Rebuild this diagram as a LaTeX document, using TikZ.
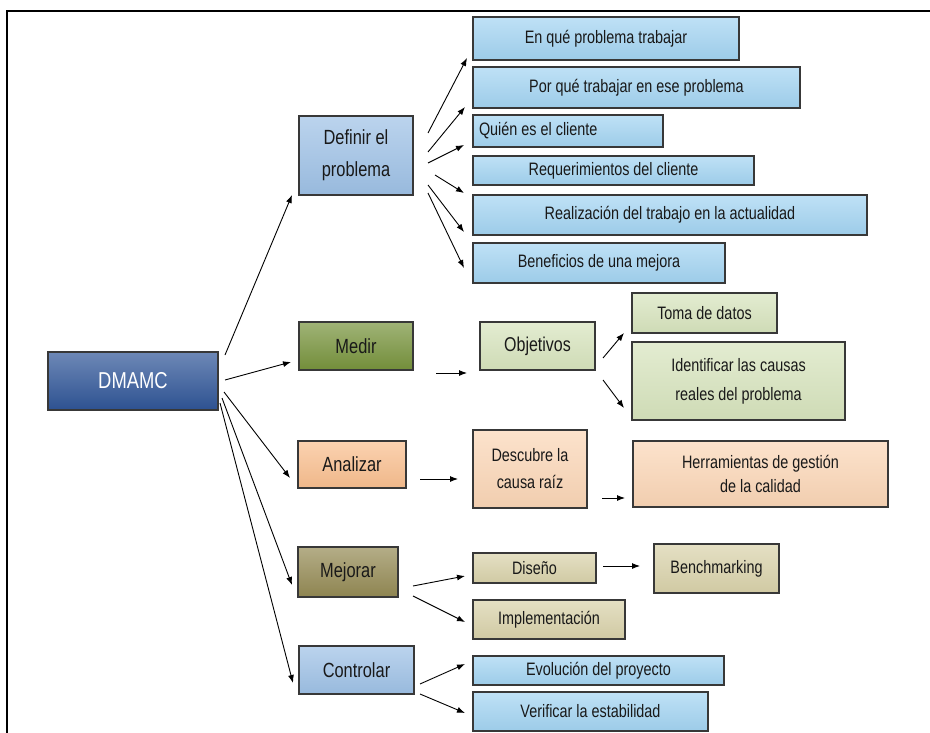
\documentclass[tikz,border=0pt]{standalone}
\usepackage{fontspec}
\setmainfont{Liberation Sans}[FakeStretch=0.8]
\usetikzlibrary{arrows.meta}
\definecolor{dblue}{HTML}{2F5597}
\definecolor{lblue}{HTML}{9EC1E6}
\definecolor{cblue}{HTML}{A3D4F2}
\definecolor{dgreen}{HTML}{77933C}
\definecolor{lgreen}{HTML}{D7E4BD}
\definecolor{dorange}{HTML}{F9BF8F}
\definecolor{lorange}{HTML}{FBD6B6}
\definecolor{dkhaki}{HTML}{948A54}
\definecolor{lkhaki}{HTML}{D9D2AA}
\newcommand\sizeS{\fontsize{18}{27}\selectfont}
\newcommand\sizeM{\fontsize{20}{30}\selectfont}
\newcommand\sizeL{\fontsize{20.5}{32}\selectfont}
\newcommand\sizeX{\fontsize{23}{30}\selectfont}
\newcommand\bx[7]{\node[#6, minimum width={#4-#2}, minimum height={#5-#3}] (#1) at ({(#2+#4)/2},{(#3+#5)/2}) {#7};}
\tikzset{
  box/.style={draw=black!78, line width=1.6pt, inner sep=2pt, outer sep=0pt, align=center,
    text=black!90, top color=#1!70!white, bottom color=#1!96!black, font=\sizeS},
  arr/.style={line width=0.9pt, -{Latex[length=8pt,width=6pt]}},
  frame/.style={line width=2.6pt, black}
}
\begin{document}
\begin{tikzpicture}[x=1pt,y=-1pt]
\useasboundingbox (0,0) rectangle (930,733);
\draw[frame] (930,11) coordinate (fr) -- (7,11) coordinate (fc) -- (7,733) coordinate (fb);
% main column
\bx{dmamc}{48}{352}{218}{410}{box=dblue, text=white, font=\sizeX}{DMAMC}
\bx{def}{299}{116}{413}{195}{box=lblue, font=\sizeL}{Definir el\\ problema}
\bx{med}{299}{322}{413}{370}{box=dgreen, font=\sizeL}{Medir}
\bx{ana}{298}{441}{406}{488}{box=dorange, font=\sizeL}{Analizar}
\bx{mej}{298}{547}{398}{597}{box=dkhaki, font=\sizeL}{Mejorar}
\bx{con}{299}{646}{414}{694}{box=lblue, font=\sizeL}{Controlar}
% Definir children
\bx{enq}{473}{17}{739}{60}{box=cblue}{En qué problema trabajar}
\bx{porq}{473}{67}{800}{108}{box=cblue}{Por qué trabajar en ese problema}
\bx{quien}{473}{115}{663}{147}{box=cblue, text width=178pt, align=flush left, inner xsep=6pt}{Quién es el cliente}
\bx{req}{473}{156}{754}{185}{box=cblue}{Requerimientos del cliente}
\bx{real}{473}{195}{867}{235}{box=cblue}{Realización del trabajo en la actualidad}
\bx{ben}{473}{243}{725}{283}{box=cblue}{Beneficios de una mejora}
% Medir children
\bx{obj}{480}{322}{595}{370}{box=lgreen, font=\sizeM}{Objetivos}
\bx{toma}{632}{293}{777}{333}{box=lgreen}{Toma de datos}
\bx{iden}{632}{342}{845}{420}{box=lgreen, font=\fontsize{18}{29}\selectfont}{Identificar las causas\\ reales del problema}
% Analizar children
\bx{desc}{473}{430}{587}{508}{box=lorange}{Descubre la\\ causa raíz}
\bx{herr}{633}{441}{888}{507}{box=lorange, font=\fontsize{18}{24}\selectfont}{Herramientas de gestión\\ de la calidad}
% Mejorar children
\bx{dis}{473}{553}{596}{583}{box=lkhaki}{Diseño}
\bx{bench}{654}{544}{779}{593}{box=lkhaki}{Benchmarking}
\bx{impl}{473}{600}{625}{639}{box=lkhaki}{Implementación}
% Controlar children
\bx{evo}{473}{656}{724}{685}{box=cblue}{Evolución del proyecto}
\bx{ver}{473}{692}{708}{731}{box=cblue}{Verificar la estabilidad}
% connector end points
\coordinate (d1) at (225,355); \coordinate (d1e) at (292,195);
\coordinate (d2) at (225,380); \coordinate (d2e) at (291,362);
\coordinate (d3) at (224,392); \coordinate (d3e) at (290,478);
\coordinate (d4) at (222,398); \coordinate (d4e) at (292,585);
\coordinate (d5) at (220,403); \coordinate (d5e) at (293,683);
\draw[arr] (d1) -- (d1e);
\draw[arr] (d2) -- (d2e);
\draw[arr] (d3) -- (d3e);
\draw[arr] (d4) -- (d4e);
\draw[arr] (d5) -- (d5e);
% Definir arrows
\coordinate (a1) at (428,133); \coordinate (a1e) at (467,58);
\coordinate (a2) at (428,152); \coordinate (a2e) at (465,107);
\coordinate (a3) at (428,163); \coordinate (a3e) at (464,145);
\coordinate (a4) at (435,175); \coordinate (a4e) at (464,193);
\coordinate (a5) at (428,185); \coordinate (a5e) at (464,232);
\coordinate (a6) at (428,193); \coordinate (a6e) at (464,268);
\draw[arr] (a1) -- (a1e);
\draw[arr] (a2) -- (a2e);
\draw[arr] (a3) -- (a3e);
\draw[arr] (a4) -- (a4e);
\draw[arr] (a5) -- (a5e);
\draw[arr] (a6) -- (a6e);
% Medir arrows
\coordinate (m1) at (436,373); \coordinate (m1e) at (467,373);
\coordinate (m2) at (603,358); \coordinate (m2e) at (624,333);
\coordinate (m3) at (603,380); \coordinate (m3e) at (624,408);
\draw[arr] (m1) -- (m1e);
\draw[arr] (m2) -- (m2e);
\draw[arr] (m3) -- (m3e);
% Analizar arrows
\coordinate (n1) at (420,479); \coordinate (n1e) at (458,479);
\coordinate (n2) at (602,498); \coordinate (n2e) at (625,498);
\draw[arr] (n1) -- (n1e);
\draw[arr] (n2) -- (n2e);
% Mejorar arrows
\coordinate (j1) at (413,586); \coordinate (j1e) at (465,576);
\coordinate (j2) at (413,596); \coordinate (j2e) at (465,622);
\coordinate (j3) at (603,566); \coordinate (j3e) at (640,566);
\draw[arr] (j1) -- (j1e);
\draw[arr] (j2) -- (j2e);
\draw[arr] (j3) -- (j3e);
% Controlar arrows
\coordinate (c1) at (420,684); \coordinate (c1e) at (465,664);
\coordinate (c2) at (420,694); \coordinate (c2e) at (465,713);
\draw[arr] (c1) -- (c1e);
\draw[arr] (c2) -- (c2e);
\end{tikzpicture}
\end{document}
